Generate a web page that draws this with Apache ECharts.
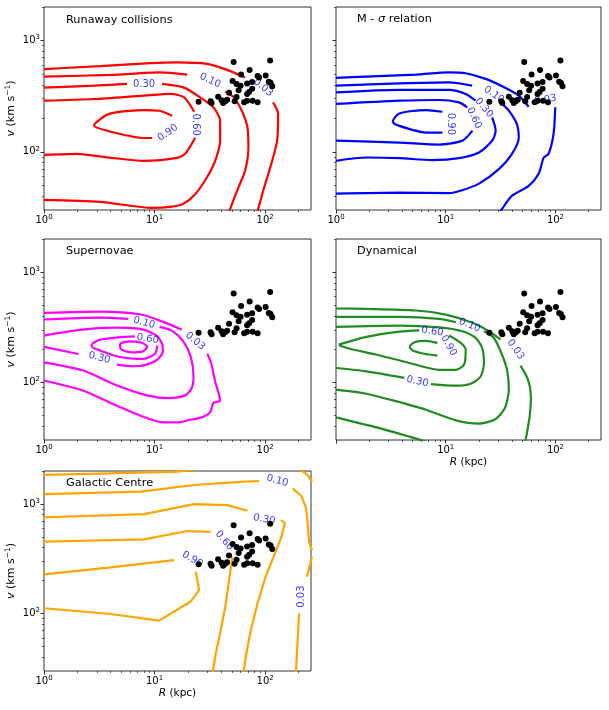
<!DOCTYPE html>
<html><head><meta charset="utf-8">
<script src="https://cdn.jsdelivr.net/npm/echarts@6.0.0/dist/echarts.min.js"></script>
<style>html,body{margin:0;padding:0;background:#fff}#c{width:609px;height:710px}</style>
</head><body><div id="c"></div>
<script>
// ---------------- DATA ----------------
const xMajorVals = [1, 10, 100];
const xMajorValsNoFirst = [10, 100];
const yMajorVals = [100, 1000];
const xMinorVals = [2,3,4,5,6,7,8,9,20,30,40,50,60,70,80,90,200];
const yMinorVals = [40,50,60,70,80,90,200,300,400,500,600,700,800,900,2000];
const panelTitles = ['Runaway collisions', 'M - {i|σ} relation', 'Supernovae', 'Dynamical', 'Galactic Centre'];

// observed objects (R in kpc, v in km/s)
const objR = [51.9,111,60.6,72.4,85.5,101,112,116,50.8,55.2,60.0,68.7,76.3,88.2,57.6,71.7,76.3,55.2,68.7,25.0,32.1,32.8,37.6,40.4,41.7,45.3,47.2,53.0,64.6,68.7,77.1,85.5,43.5,108];
const objV = [640,660,494,542,479,484,418,389,432,406,393,410,423,464,358,344,369,310,330,282,285,274,313,291,274,294,340,285,279,288,288,279,285,427];

// Runaway collisions contours: segments of [R, v]
const rc003 = [[[1,553],[3.21,589],[9.1,627],[16,637],[29.9,617],[45.3,545],[65.9,464]],
               [[118,278],[131,220],[128.5,126],[111,71.8],[95.9,44.5],[84.7,28.2]]];
const rc010 = [[[1,474],[4.04,491],[11.2,518],[19.7,494]],
               [[43.5,347],[51.3,313],[61.5,234],[69.2,166],[70.6,109],[65.9,67.5],[57.3,47.7],[48.2,30.5],[47.2,27.6]]];
const rc030 = [[[1,377],[2.83,393],[5.64,407]],
               [[11.7,407],[18.5,377],[25.8,308],[34.0,251],[39.2,190],[39.2,126],[35.3,83],[29.7,58.7],[23.3,41.6],[18.1,34.0],[13.8,32.0],[9.7,31.3],[3.21,35.5],[1,37.0]]];
const rc060 = [[[1,288],[2.83,298],[8.04,320],[14.1,331],[18.5,308],[22.8,229]],
               [[23.3,134],[18.9,96],[16.0,88.3],[8.04,83],[4.04,88.3],[1.99,96],[1,94]]];
const rc090 = [[[14.4,211],[11.0,234],[8.04,237],[3.88,219],[2.83,172],[4.3,149],[8.04,133],[9.5,133]]];
const rcLabels = [[95.9,377,'0.03'],[31.8,436,'0.10'],[8.04,407,'0.30'],[23.7,175,'0.60'],[13.2,148,'0.90']];

// M - sigma contours
const ms003 = [[[1,461],[1.89,474],[5.36,494],[10.7,518],[15.2,508],[23.1,452],[35.1,375],[46.3,320],[57.0,254]],
               [[99.6,251],[96.1,145],[86.6,96],[78,88.3],[70.3,63.4],[57.0,49.4],[40.0,40.2],[32.5,30.5],[30.5,27.6]]];
const ms010 = [[[1,393],[3.78,412],[10.7,421],[17.4,393]],
               [[32.5,271],[37.6,234],[44.4,178],[46.3,134],[40.0,95.4],[30.5,69.8],[20.1,51.8],[14.1,45.2],[10.7,42.5],[3.78,43.0],[1,42.1]]];
const ms030 = [[[1,342],[3.78,360],[10.7,360],[15.2,331],[18.7,288]],
               [[26.5,204],[28.5,155],[26.5,126],[20.1,98.6],[13.2,87.7],[7.53,84.2],[3.78,87.7],[1.89,88.9],[1,83]]];
const ms060 = [[[1,269],[3.78,288],[8.71,292],[13.2,278],[15.7,251]],
               [[17.5,155],[14.2,126],[8.71,116],[3.78,121],[1,126]]];
const ms090 = [[[9.33,229],[6.6,237],[3.78,221],[3.29,187],[3.53,175],[6.6,149],[9.33,149]]];
const msLabels = [[80.9,294,'0.03'],[27.5,326,'0.10'],[22.3,248,'0.30'],[18.1,201,'0.60'],[11.1,178,'0.90']];

// Supernovae contours
const sn003 = [[[1,428],[3.21,439],[7.39,415],[12.0,354],[17.6,301]],
               [[30.0,182],[32.5,150],[35.3,102],[39.2,68.6],[34.0,65.0],[31.8,53.4],[26.7,48.1],[20.9,45.8],[16.4,43.3],[12.0,43.3],[8.5,47.5],[4.55,61.4],[2.27,84.1],[1,104]]];
const sn010 = [[[1,372],[3.21,387],[5.79,377]],
               [[11.1,319],[14.3,295],[18.2,236],[21.2,172],[22.5,113],[21.7,88.9],[18.9,76.2],[13.3,72.1],[8.5,76.2],[4.24,96.7],[2.27,128],[1,152]]];
const sn030 = [[[1,266],[2.12,299],[4.24,314],[7.39,306],[10.1,271],[11.6,228],[11.9,191],[10.6,161],[8.5,145],[6.43,140],[4.55,145]],
               [[2.05,181],[1,210]]];
const sn060 = [[[2.70,223],[3.21,244],[5.22,259],[6.66,262]],
               [[10.6,216],[10.1,182],[7.92,163],[4.87,170],[3.21,195],[2.70,212],[2.70,223]]];
const sn090 = [[[4.87,225],[5.79,236],[7.66,229],[8.6,210],[7.82,191],[6.22,187],[4.94,201],[4.87,225]]];
const snLabels = [[23.3,236,'0.03'],[8.04,347,'0.10'],[3.17,167,'0.30'],[8.67,248,'0.60']];

// Dynamical contours
const dy003 = [[[1,468],[1.89,464],[5.36,449],[10.0,412],[17.5,347],[24.7,291],[31.6,245]],
               [[48.0,142],[56.2,106],[59.8,74.6],[58.2,49.1],[53.2,29.1]],
               [[1,48.1],[2.67,37.7],[6.6,29.1]]];
const dy010 = [[[1,393],[3.78,393],[8.71,377],[12.4,351]],
               [[22.3,291],[27.5,253],[32.3,182],[36.2,130],[37.6,85.9],[34.6,58.5],[28.5,46.5],[20.1,42.2],[12.4,45.2],[6.6,56.5],[3.29,68.6],[1.89,78.9],[1,85.9]]];
const dy030 = [[[1,319],[3.78,328],[8.71,316],[14.2,291],[18.7,253],[21.5,205],[22.3,150],[20.8,113],[16.9,97.3],[12.4,93.3],[7.33,96.5]],
               [[4.2,110],[1.89,126],[1,135]]];
const dy060 = [[[1.06,220],[1.89,259],[3.78,289],[5.74,297]],
               [[10.7,266],[13.7,228],[15.2,198],[14.7,145],[12.4,130],[8.71,130],[4.66,150],[2.32,179],[1.33,202],[1.06,217]]];
const dy090 = [[[4.66,212],[5.17,231],[6.6,238],[8.41,228]],
               [[8.41,175],[6.37,182],[4.99,195],[4.66,210]]];
const dyLabels = [[43.3,198,'0.03'],[16.5,330,'0.10'],[5.53,102,'0.30'],[7.57,289,'0.60'],[10.6,216,'0.90']];

// Galactic Centre contours
const gc003 = [[[1,1841],[4.01,1905],[16.1,1972],[26.2,2100]],
               [[210,2042],[242,1841],[265,1600]],
               [[265,330],[239,217]],
               [[203,100.7],[196,53.6],[190,28.5]]];
const gc010 = [[[1,1233],[7.5,1297],[22.8,1490],[64.6,1600],[88.2,1622]],
               [[177,1390],[213,1183],[235,912],[245,600],[249,460],[265,380]]];
const gc030 = [[[1,755],[8.03,809],[22.8,998],[45.6,977],[69.2,869]],
               [[139,714],[151,666],[139,486],[121,343],[101,217],[85.3,124],[74.2,71],[66.8,40.5],[63.7,28.5]]];
const gc060 = [[[1,454],[8.03,476],[19.8,567],[32.2,556]],
               [[50.6,326],[47.2,203],[44.1,124],[39.7,71],[35.8,43.4],[33.4,28.5]]];
const gc090 = [[[1,228],[4.01,264],[15.0,308]],
               [[23.6,241],[25.3,164],[21.2,129],[11.0,86.3],[4.01,99.3],[1,112]]];
const gcLabels = [[213,143,'0.03'],[129,1633,'0.10'],[98,724,'0.30'],[42.6,463,'0.60'],[22.0,313,'0.90']];

// ---------------- STYLE / LAYOUT ----------------
const FONT = 'DejaVu Sans';
const rcAngles = [-40,-25,0,-90,35];
const msAngles = [8,-35,-50,-65,-90];
const snAngles = [-40,-15,-15,-10];
const dyAngles = [-55,-22,-12,-8,-60];
const gcAngles = [90,-15,-10,-50,-30];

const panels = [
  {grid:{left:44,top:7,width:267,height:203}, contours:[rc003,rc010,rc030,rc060,rc090], labels:rcLabels, angles:rcAngles, color:'#ff0000', smooth:0.25, xLab:xMajorVals, yLab:true, xName:false, tl:[66,15]},
  {grid:{left:336,top:7,width:265,height:203}, contours:[ms003,ms010,ms030,ms060,ms090], labels:msLabels, angles:msAngles, color:'#0000ff', smooth:0.25, xLab:xMajorVals, yLab:false, xName:false, tl:[357,14]},
  {grid:{left:44,top:239,width:267,height:201}, contours:[sn003,sn010,sn030,sn060,sn090], labels:snLabels, angles:snAngles, color:'#ff00ff', smooth:0.25, xLab:xMajorVals, yLab:true, xName:false, tl:[66,246]},
  {grid:{left:336,top:239,width:265,height:201}, contours:[dy003,dy010,dy030,dy060,dy090], labels:dyLabels, angles:dyAngles, color:'#228b22', smooth:0.25, xLab:xMajorValsNoFirst, yLab:false, xName:true, tl:[357,246]},
  {grid:{left:44,top:471,width:267,height:200}, contours:[gc003,gc010,gc030,gc060,gc090], labels:gcLabels, angles:gcAngles, color:'#ffa500', smooth:0, xLab:xMajorVals, yLab:true, xName:true, tl:[66,478]}
];

const tickRich = {
  b:{fontSize:10, fontFamily:FONT, color:'#000', lineHeight:13},
  s:{fontSize:7, fontFamily:FONT, color:'#000', lineHeight:7, verticalAlign:'top'}
};
const expFmt = v => '{b|10}{s|' + Math.round(Math.log10(v)) + '}';
const tickLine = {color:'#000', width:0.8};

const grids = [], xAxes = [], yAxes = [], series = [], titles = [];
panels.forEach((p, i) => {
  grids.push(Object.assign({show:true, borderColor:'#000', borderWidth:0.8, backgroundColor:'#fff', containLabel:false}, p.grid));
  // major x
  xAxes.push({type:'log', logBase:10, gridIndex:i, position:'bottom', min:1, max:260,
    axisLine:{show:false}, splitLine:{show:false},
    axisTick:{show:true, length:3.5, lineStyle:tickLine, customValues:xMajorVals},
    axisLabel:{show:true, customValues:p.xLab, formatter:expFmt, rich:tickRich, margin:4},
    name: p.xName ? '{i|R} (kpc)' : '', nameLocation:'middle', nameGap:17,
    nameTextStyle:{fontSize:10.5, fontFamily:FONT, color:'#000', rich:{i:{fontSize:10.5, fontFamily:FONT, fontStyle:'italic', color:'#000'}}}
  });
  // minor x
  xAxes.push({type:'log', logBase:10, gridIndex:i, position:'bottom', offset:0, min:1, max:260,
    axisLine:{show:false}, splitLine:{show:false}, axisLabel:{show:false},
    axisTick:{show:true, length:2, lineStyle:{color:'#000', width:0.6}, customValues:xMinorVals}});
  // major y
  yAxes.push({type:'log', logBase:10, gridIndex:i, position:'left', min:30, max:2000,
    axisLine:{show:false}, splitLine:{show:false},
    axisTick:{show:true, length:3.5, lineStyle:tickLine, customValues:yMajorVals},
    axisLabel:{show:p.yLab, customValues:yMajorVals, formatter:expFmt, rich:tickRich, margin:4},
    name: p.yLab ? '{i|v} (km s{s|−1})' : '', nameLocation:'middle', nameGap:26, nameRotate:90,
    nameTextStyle:{fontSize:11, fontFamily:FONT, color:'#000', rich:{
      i:{fontSize:11, fontFamily:FONT, fontStyle:'italic', color:'#000', lineHeight:14},
      s:{fontSize:7.5, fontFamily:FONT, color:'#000', lineHeight:8, verticalAlign:'top'}}}
  });
  // minor y
  yAxes.push({type:'log', logBase:10, gridIndex:i, position:'left', offset:0, min:30, max:2000,
    axisLine:{show:false}, splitLine:{show:false}, axisLabel:{show:false},
    axisTick:{show:true, length:2, lineStyle:{color:'#000', width:0.6}, customValues:yMinorVals}});

  const xi = 2*i, yi = 2*i;
  p.contours.forEach(c => {
    c.forEach(seg => {
      series.push({type:'line', xAxisIndex:xi, yAxisIndex:yi, data:seg, symbol:'none', showSymbol:false,
        smooth:p.smooth, lineStyle:{color:p.color, width:2.2}, silent:true, z:2, animation:false, clip:true});
    });
  });
  series.push({type:'scatter', xAxisIndex:xi, yAxisIndex:yi, symbolSize:0, silent:true, z:3, animation:false,
    data:p.labels.map((l,k) => ({value:[l[0], l[1]], name:l[2], label:{rotate:p.angles[k]}})),
    label:{show:true, position:'inside', formatter: q => q.name, color:'#0000ff', fontSize:10, fontFamily:FONT}
  });
  series.push({type:'scatter', xAxisIndex:xi, yAxisIndex:yi, symbol:'circle', symbolSize:6, silent:true, z:4, animation:false,
    itemStyle:{color:'#000', opacity:1}, data:objR.map((r,k) => [r, objV[k]])});

  titles.push({text:panelTitles[i], left:p.tl[0], top:p.tl[1], padding:0,
    textStyle:{fontSize:11.3, fontFamily:FONT, fontWeight:'normal', color:'#000',
      rich:{i:{fontSize:11.3, fontFamily:FONT, fontStyle:'italic', color:'#000'}}}});
});

const chart = echarts.init(document.getElementById('c'), null, {renderer:'canvas'});
chart.setOption({
  animation:false,
  backgroundColor:'#fff',
  title:titles,
  grid:grids,
  xAxis:xAxes,
  yAxis:yAxes,
  series:series
});
</script></body></html>
